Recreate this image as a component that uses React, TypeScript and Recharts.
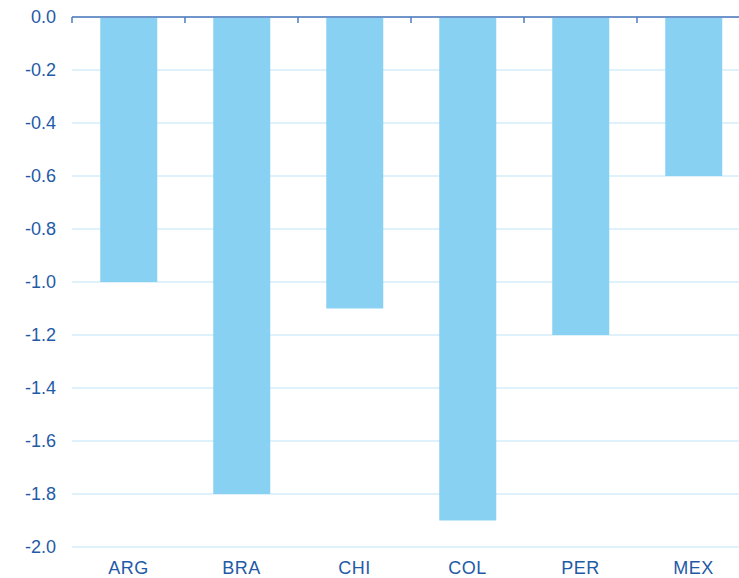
import React from "react";
import { BarChart, Bar, XAxis, YAxis, CartesianGrid } from "recharts";

const categories = ["ARG", "BRA", "CHI", "COL", "PER", "MEX"];
const values = [-1.0, -1.8, -1.1, -1.9, -1.2, -0.6];
const yTicks = [0, -0.2, -0.4, -0.6, -0.8, -1.0, -1.2, -1.4, -1.6, -1.8, -2.0];
const boundaryTicks = [0, 1, 2, 3, 4, 5, 6];

const data = categories.map((c, i) => ({ name: c, value: values[i], pos: i + 0.5 }));

const TEXT = "#1f5aa6";
const FONT = "'Liberation Sans', Arial, sans-serif";

export default function App() {
  return (
    <div style={{ position: "absolute", left: 0, top: 0, width: 739, height: 578, overflow: "hidden", background: "#fff" }}>
      <BarChart
        width={750}
        height={578}
        data={data}
        margin={{ top: 16, right: 0, bottom: 0, left: 0 }}
        barCategoryGap="25%"
      >
        <CartesianGrid horizontal vertical={false} stroke="#d4ecf8" strokeWidth={1.5} />
        <XAxis
          dataKey="name"
          xAxisId="cat"
          axisLine={false}
          tickLine={false}
          tickSize={0}
          tickMargin={14}
          height={31}
          tick={{ fill: TEXT, fontSize: 18, fontFamily: FONT, letterSpacing: 0.5 }}
        />
        <YAxis
          domain={[-2, 0]}
          ticks={yTicks}
          width={72}
          axisLine={false}
          tickLine={false}
          tickSize={0}
          tickMargin={16}
          tickFormatter={(v: number) => v.toFixed(1)}
          tick={{ fill: TEXT, fontSize: 18, fontFamily: FONT }}
        />
        <Bar dataKey="value" xAxisId="cat" fill="#89d1f2" isAnimationActive={false} />
        <XAxis
          xAxisId="top"
          orientation="top"
          type="number"
          dataKey="pos"
          domain={[0, 6]}
          ticks={boundaryTicks}
          allowDataOverflow
          height={1}
          tick={() => <g />}
          tickSize={-6}
          axisLine={{ stroke: "#6f95ca", strokeWidth: 2 }}
          tickLine={{ stroke: "#4f7cbd", strokeWidth: 1.5 }}
        />
      </BarChart>
    </div>
  );
}
